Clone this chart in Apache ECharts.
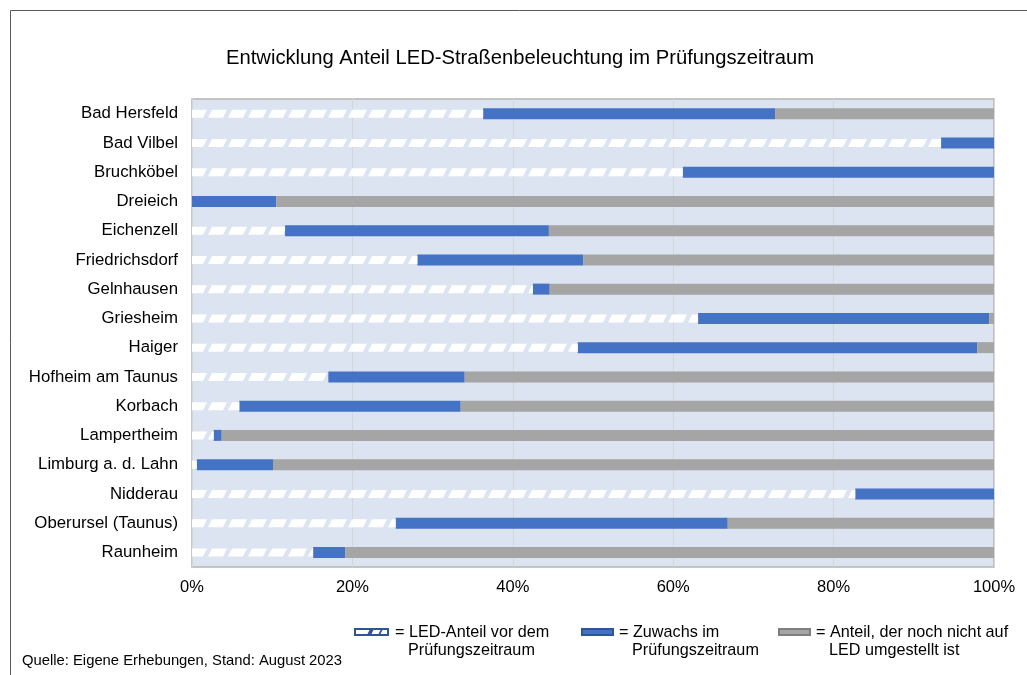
<!DOCTYPE html>
<html>
<head>
<meta charset="utf-8">
<script src="https://cdn.jsdelivr.net/npm/echarts@6/dist/echarts.min.js"></script>
<style>
  html, body { margin: 0; padding: 0; background: #ffffff; }
  #chart { width: 1027px; height: 675px; }
</style>
</head>
<body>
<div id="chart"></div>
<script>
// Kommunen (von oben nach unten)
const categories = [
  'Bad Hersfeld', 'Bad Vilbel', 'Bruchköbel', 'Dreieich', 'Eichenzell',
  'Friedrichsdorf', 'Gelnhausen', 'Griesheim', 'Haiger', 'Hofheim am Taunus',
  'Korbach', 'Lampertheim', 'Limburg a. d. Lahn', 'Nidderau',
  'Oberursel (Taunus)', 'Raunheim'
];

// Anteile in Prozent
const ledVorher  = [36.3, 93.4, 61.2,  0.0, 11.6, 28.1, 42.5, 63.1, 48.1, 17.0,  5.9,  2.7,  0.6, 82.7, 25.4, 15.1];
const zuwachs    = [36.4,  6.6, 38.8, 10.5, 32.9, 20.7,  2.1, 36.3, 49.8, 17.0, 27.6,  1.0,  9.5, 17.3, 41.4,  4.0];
const nochNicht  = [27.3,  0.0,  0.0, 89.5, 55.5, 51.2, 55.4,  0.6,  2.1, 66.0, 66.5, 96.3, 89.9,  0.0, 33.2, 80.9];

const xTicks = [0, 20, 40, 60, 80, 100];

const legendTexts = [
  ['= LED-Anteil vor dem', 'Prüfungszeitraum'],
  ['= Zuwachs im', 'Prüfungszeitraum'],
  ['= Anteil, der noch nicht auf', 'LED umgestellt ist']
];

const FONT = '"Liberation Sans", Arial, sans-serif';
const BLUE = '#4472C4';
const GREY = '#A5A5A5';
const PLOT_BG = '#DCE4F1';
const BAR_H = 11;

// Clip a polygon to x <= xMax
function clipPoly(points, xMax) {
  const out = [];
  for (let i = 0; i < points.length; i++) {
    const a = points[i], b = points[(i + 1) % points.length];
    const aIn = a[0] <= xMax, bIn = b[0] <= xMax;
    if (aIn) out.push(a);
    if (aIn !== bIn) {
      const t = (xMax - a[0]) / (b[0] - a[0]);
      out.push([xMax, a[1] + t * (b[1] - a[1])]);
    }
  }
  return out;
}

// White slanted stripes for the "vorher" segment
function renderHatch(params, api) {
  const v = api.value(0);
  const cat = api.value(1);
  if (!(v > 0)) return null;
  const p0 = api.coord([0, cat]);
  const p1 = api.coord([v, cat]);
  const top = p0[1] - BAR_H / 2;
  const yT = top + 1.5, yB = top + 9.5;
  const period = 20, w = 15, slant = 4;
  const children = [];
  for (let x = p0[0] - slant; x < p1[0]; x += period) {
    let poly = [[x, yB], [x + w, yB], [x + w + slant, yT], [x + slant, yT]];
    poly = poly.map(pt => [Math.max(pt[0], p0[0]), pt[1]]);
    poly = clipPoly(poly, p1[0]);
    if (poly.length >= 3) {
      children.push({ type: 'polygon', shape: { points: poly }, style: { fill: '#FFFFFF' } });
    }
  }
  return { type: 'group', children: children };
}

const chart = echarts.init(document.getElementById('chart'), null, { renderer: 'canvas' });

// Legend drawn as graphic elements
function legendItem(x, y, idx, iconKind) {
  const icon = [];
  if (iconKind === 'hatch') {
    icon.push({ type: 'rect', shape: { x: x, y: y - 3, width: 33, height: 6 },
      style: { fill: '#FFFFFF', stroke: '#2F5597', lineWidth: 2 } });
    icon.push({ type: 'polygon', shape: { points: [[x + 12, y + 3], [x + 16, y + 3], [x + 19, y - 3], [x + 15, y - 3]] },
      style: { fill: '#2F5597' } });
    icon.push({ type: 'polygon', shape: { points: [[x + 23, y + 3], [x + 25, y + 3], [x + 28, y - 3], [x + 26, y - 3]] },
      style: { fill: '#2F5597' } });
  } else if (iconKind === 'blue') {
    icon.push({ type: 'rect', shape: { x: x, y: y - 3, width: 31, height: 6 },
      style: { fill: BLUE, stroke: '#2F5597', lineWidth: 2 } });
  } else {
    icon.push({ type: 'rect', shape: { x: x, y: y - 3, width: 31, height: 6 },
      style: { fill: GREY, stroke: '#7F7F7F', lineWidth: 2 } });
  }
  const tx = x + (iconKind === 'hatch' ? 40 : 37);
  return icon.concat([
    { type: 'text', x: tx, y: y + 1, style: { text: legendTexts[idx][0], font: '16.2px ' + FONT, fill: '#000', verticalAlign: 'middle' } },
    { type: 'text', x: tx + 13, y: y + 19, style: { text: legendTexts[idx][1], font: '16.2px ' + FONT, fill: '#000', verticalAlign: 'middle' } }
  ]);
}

const option = {
  backgroundColor: '#FFFFFF',
  animation: false,
  title: {
    text: 'Entwicklung Anteil LED-Straßenbeleuchtung im Prüfungszeitraum',
    left: 515, top: 43, textAlign: 'center',
    textStyle: { fontFamily: FONT, fontSize: 20.2, fontWeight: 'normal', color: '#000' }
  },
  grid: {
    left: 192, right: 33, top: 99, bottom: 108,
    show: true, backgroundColor: PLOT_BG, borderColor: '#B4B4B4', borderWidth: 1.5
  },
  xAxis: {
    type: 'value', min: xTicks[0], max: xTicks[xTicks.length - 1], interval: xTicks[1] - xTicks[0],
    axisLine: { show: false }, axisTick: { show: false },
    splitLine: { show: true, lineStyle: { color: '#D6D6D6', width: 1 } },
    axisLabel: { formatter: '{value}%', fontFamily: FONT, fontSize: 16.5, color: '#000', margin: 12 }
  },
  yAxis: {
    type: 'category', data: categories, inverse: true,
    axisLine: { show: false }, axisTick: { show: false },
    axisLabel: { fontFamily: FONT, fontSize: 16.8, color: '#000', margin: 14 }
  },
  series: [
    {
      name: 'LED-Anteil vor dem Prüfungszeitraum', type: 'bar', stack: 'anteil',
      data: ledVorher, barWidth: BAR_H, itemStyle: { color: 'rgba(0,0,0,0)' }, silent: true
    },
    {
      name: 'Zuwachs im Prüfungszeitraum', type: 'bar', stack: 'anteil',
      data: zuwachs, barWidth: BAR_H, itemStyle: { color: BLUE }
    },
    {
      name: 'Anteil, der noch nicht auf LED umgestellt ist', type: 'bar', stack: 'anteil',
      data: nochNicht, barWidth: BAR_H, itemStyle: { color: GREY }
    },
    {
      name: 'Schraffur', type: 'custom', renderItem: renderHatch, z: 5,
      encode: { x: 0, y: 1 },
      data: ledVorher.map((v, i) => [v, i])
    }
  ],
  graphic: [
    { type: 'rect', shape: { x: 10.5, y: 10.5, width: 2000, height: 2000 },
      style: { fill: 'none', stroke: '#595959', lineWidth: 1 }, silent: true },
    { type: 'text', left: 22, top: 653,
      style: { text: 'Quelle: Eigene Erhebungen, Stand: August 2023', font: '14.8px ' + FONT, fill: '#000' } },
    { type: 'group', children: legendItem(355, 632, 0, 'hatch') },
    { type: 'group', children: legendItem(582, 632, 1, 'blue') },
    { type: 'group', children: legendItem(779, 632, 2, 'grey') }
  ]
};

chart.setOption(option);
</script>
</body>
</html>
